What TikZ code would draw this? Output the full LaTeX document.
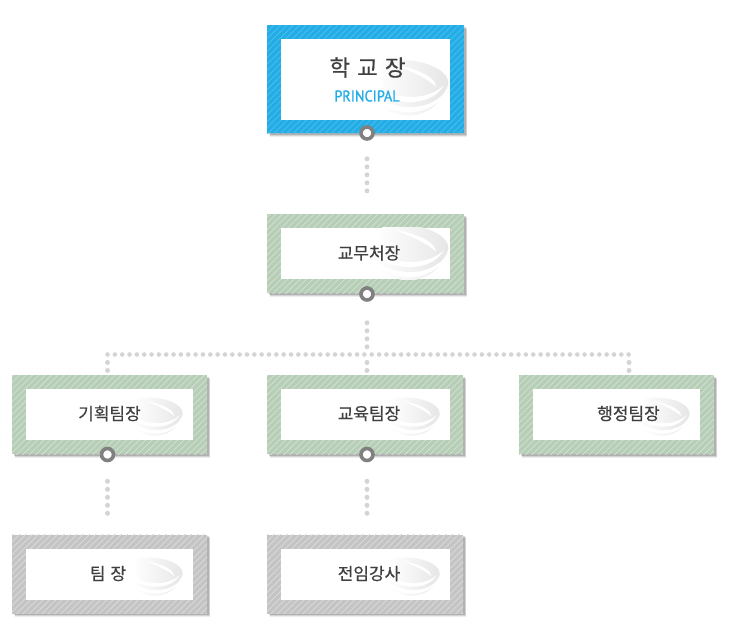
\documentclass[tikz,border=0pt]{standalone}
\usepackage{fontspec}
\setmainfont{Noto Sans CJK KR}[RawFeature={embolden=0.5}]
\newfontfamily\latinfont{PT Sans}[RawFeature={embolden=1.2}]
\usepackage{tikz}
\usetikzlibrary{patterns.meta,shadows}

\definecolor{skyblue}{HTML}{22ADE6}
\definecolor{sagegreen}{HTML}{B6CDB6}
\definecolor{midgray}{HTML}{C4C4C4}
\definecolor{labelgray}{HTML}{404040}

\tikzset{
  softshadow/.style={
    drop shadow={shadow xshift=3pt, shadow yshift=-3.5pt, fill=black, opacity=.07},
    drop shadow={shadow xshift=2.5pt, shadow yshift=-2.5pt, fill=black, opacity=.11},
    drop shadow={shadow xshift=1.5pt, shadow yshift=-1.5pt, fill=black, opacity=.16}},
  outerbox/.style={rectangle, minimum width=#1, minimum height=79pt, inner sep=0pt, softshadow},
  bluebox/.style={outerbox=197pt, minimum height=108pt,
    preaction={fill=skyblue},
    pattern={Lines[angle=45, distance=4.5pt, line width=.9pt]}, pattern color=white!18!skyblue},
  greenbox/.style={outerbox=#1,
    preaction={fill=sagegreen},
    pattern={Lines[angle=45, distance=4.5pt, line width=.9pt]}, pattern color=white!35!sagegreen},
  graybox/.style={outerbox=196pt,
    preaction={fill=midgray},
    pattern={Lines[angle=45, distance=4.5pt, line width=.9pt]}, pattern color=white!35!midgray},
  innerbox/.style={rectangle, fill=white, inner sep=0pt, minimum width=#1, minimum height=51pt},
  ring/.style={circle, draw=black!50, line width=3.6pt, fill=white, minimum size=12pt, inner sep=0pt},
  dotline/.style={draw=black!17, line width=5pt, line cap=round, dash pattern=on 0pt off 8pt},
  dotrail/.style={draw=black!17, line width=4.6pt, line cap=round, dash pattern=on 0pt off 7.34pt},
  boxlabel/.style={text=labelgray, font=\fontsize{17}{18}\selectfont, inner sep=0pt}
}

% swirl in the right part of an inner box
\newcommand{\swirlmark}[4]{%
  \begin{scope}
    \clip (#1.south west) rectangle (#1.north east);
    \begin{scope}[shift={(#2,#3)}, scale=#4]
      \shade[left color=white, right color=black!10]
        (-20,-20) .. controls (8,-23) and (28,-13) .. (27,-3)
        .. controls (26,6) and (10,13) .. (-8,10)
        .. controls (-20,8) and (-26,-14) .. (-20,-20) -- cycle;
      % white sweep through the blob
      \fill[white] (-12,-17) .. controls (4,-14) and (18,-8) .. (18,-1)
        .. controls (12,-7) and (0,-12) .. (-12,-17) -- cycle;
      \fill[white] (-30,-3) .. controls (-10,10) and (12,9) .. (24,-2)
        .. controls (14,14) and (-14,15) .. (-30,-3) -- cycle;
      \shade[left color=white, right color=black!10]
        (-28,3) .. controls (-10,13) and (12,13) .. (25,2)
        .. controls (16,16) and (-12,19) .. (-28,3) -- cycle;
      \shade[left color=white, right color=black!7]
        (-24,11) .. controls (-8,20) and (8,20) .. (20,10)
        .. controls (8,23) and (-10,23) .. (-24,11) -- cycle;
    \end{scope}
  \end{scope}
}

\begin{document}
\begin{tikzpicture}[x=1pt, y=-1pt]
  \useasboundingbox (0,0) rectangle (735,643);

  % Principal
  \node[bluebox] (principal) at (365.5,79) {};
  \node[innerbox=169pt, minimum height=81pt] (principalin) at (365.5,79.5) {};
  \swirlmark{principalin}{411}{88}{1.38}
  \node[text=labelgray, inner sep=0pt, font=\fontsize{22.5}{24}\selectfont] (principalname) at (367.5,67.5) {학\hspace{7pt}교\hspace{7pt}장};
  \node[text=skyblue, inner sep=0pt, font=\latinfont\fontsize{15.5}{18}\selectfont] (principaleng) at (367,96) {\scalebox{.92}[1]{PRINCIPAL}};

  % Second level
  \node[greenbox=197pt] (head) at (365.5,253.5) {};
  \node[innerbox=169pt] (headin) at (365.5,253.5) {};
  \swirlmark{headin}{411}{253}{1.38}
  \node[boxlabel] (headname) at (369,253) {교무처장};

  % Third level
  \node[greenbox=195pt] (plan) at (109.5,414.5) {};
  \node[innerbox=167pt] (planin) at (109.5,414.5) {};
  \swirlmark{planin}{157}{417}{.95}
  \node[boxlabel] (planname) at (109.5,413.5) {기획팀장};

  \node[greenbox=196pt] (edu) at (365,414.5) {};
  \node[innerbox=169pt] (eduin) at (365.5,414.5) {};
  \swirlmark{eduin}{414}{417}{.95}
  \node[boxlabel] (eduname) at (369,413.5) {교육팀장};

  \node[greenbox=195pt] (admin) at (616.5,414.5) {};
  \node[innerbox=167pt] (adminin) at (616.5,414.5) {};
  \swirlmark{adminin}{664}{417}{.95}
  \node[boxlabel] (adminname) at (628.5,413.5) {행정팀장};

  % Fourth level
  \node[graybox, minimum width=195pt] (leader) at (109.5,574) {};
  \node[innerbox=167pt] (leaderin) at (109.5,574.5) {};
  \swirlmark{leaderin}{157}{577}{.95}
  \node[boxlabel] (leadername) at (108,573.5) {팀\hspace{5pt}장};

  \node[graybox] (lecturer) at (365,574) {};
  \node[innerbox=169pt] (lecturerin) at (365.5,574.5) {};
  \swirlmark{lecturerin}{414}{577}{.95}
  \node[boxlabel] (lecturername) at (369,573.5) {전임강사};

  % Rings under the boxes
  \node[ring] (ringprincipal) at (367,133) {};
  \node[ring] (ringhead) at (367,294) {};
  \node[ring] (ringplan) at (107.5,454.5) {};
  \node[ring] (ringedu) at (367,454.5) {};

  % Rail between second and third level
  \coordinate (railleft) at (107.5,354.5);
  \coordinate (railmid) at (367,354.5);
  \coordinate (railright) at (629,354.5);

  % Dotted connectors
  \draw[dotline, shorten <=18pt, shorten >=21pt] (ringprincipal) -- (ringprincipal |- head.north);
  \draw[dotline, shorten <=21pt, shorten >=4pt] (ringhead) -- (railmid);
  \draw[dotline, shorten <=8pt, shorten >=3pt] (railmid) -- (railmid |- edu.north);
  \draw[dotline, shorten <=8pt, shorten >=3pt] (railleft) -- (railleft |- plan.north);
  \draw[dotline, shorten <=8pt, shorten >=3pt] (railright) -- (railright |- admin.north);
  \draw[dotrail] (railleft) -- (railright);
  \draw[dotline, shorten <=19pt, shorten >=19pt] (ringplan) -- (ringplan |- leader.north);
  \draw[dotline, shorten <=19pt, shorten >=19pt] (ringedu) -- (ringedu |- lecturer.north);
\end{tikzpicture}
\end{document}
